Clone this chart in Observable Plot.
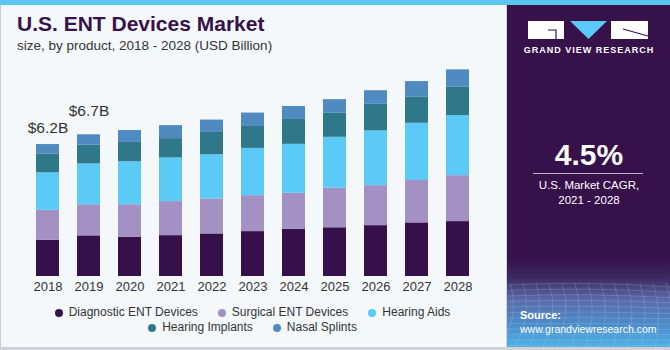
<!DOCTYPE html>
<html>
<head>
<meta charset="utf-8">
<script src="https://cdn.jsdelivr.net/npm/d3@7"></script>
<script src="https://cdn.jsdelivr.net/npm/@observablehq/plot@0.6"></script>
<style>
  body { margin: 0; }
  #root { position: relative; width: 670px; height: 350px; background: #f4f8fb; overflow: hidden; font-family: "Liberation Sans", Arial, sans-serif; }
  #topstrip { position: absolute; left: 0; top: 0; width: 670px; height: 5px; background: #5bc6f0; }
  #leftborder { position: absolute; left: 0; top: 5px; width: 1px; height: 345px; background: #c9cdd2; }
  #bottomborder { position: absolute; left: 0; top: 347px; width: 670px; height: 3px; background: #cfd2d6; }
  #title { position: absolute; left: 17px; top: 12px; font-size: 21px; font-weight: bold; color: #37114a; white-space: nowrap; }
  #subtitle { position: absolute; left: 17px; top: 38px; font-size: 13.5px; color: #333; white-space: nowrap; }
  #chart { position: absolute; left: 0; top: 60px; }
  #legend { position: absolute; left: 0; top: 305px; width: 505px; font-size: 12px; color: #333; }
  .lrow { display: flex; justify-content: center; height: 15px; line-height: 15px; }
  .litem { display: flex; align-items: center; margin: 0 10px; white-space: nowrap; }
  .ldot { width: 8px; height: 8px; border-radius: 50%; margin-right: 6px; }
  #panel { position: absolute; left: 506px; top: 5px; width: 164px; height: 342px; background: linear-gradient(to bottom, #37114a 0%, #37114a 74%, #3d2a63 80%, #5a6aa8 86%, #4b8fcc 94%, #4fb0e6 100%); border-left: 1px solid #d0d4da; }
  #grid { position: absolute; left: 0; top: 268px; }
  #logo { position: absolute; left: 21px; top: 16px; }
  #gvrtext { position: absolute; left: 0; top: 40px; width: 164px; text-align: center; color: #fff; font-weight: bold; font-size: 9px; letter-spacing: 1px; }
  #cagr { position: absolute; left: 0; top: 133px; width: 164px; text-align: center; color: #fff; font-weight: bold; font-size: 30px; }
  #cagrline { position: absolute; left: 26px; top: 168px; width: 110px; height: 1px; background: #b9b3c8; }
  #cagrtext { position: absolute; left: 0; top: 173px; width: 164px; text-align: center; color: #fff; font-size: 11.5px; line-height: 15px; }
  #source { position: absolute; left: 13px; top: 303px; color: #fff; font-size: 10.5px; line-height: 14px; }
</style>
</head>
<body>
<div id="root">
  <div id="topstrip"></div>
  <div id="leftborder"></div>
  <div id="title">U.S. ENT Devices Market</div>
  <div id="subtitle">size, by product, 2018 - 2028 (USD Billion)</div>
  <div id="chart"></div>
  <div id="legend"></div>
  <div id="panel">
    <svg id="grid" width="164" height="74"></svg>
    <svg id="logo" width="122" height="20">
      <rect x="0" y="0" width="36" height="18" fill="#fff"/>
      <path d="M20 9 H28 V18" stroke="#37114a" stroke-width="1.2" fill="none"/>
      <path d="M42 0 H79 L60.5 18 Z" fill="#5bc8f5"/>
      <rect x="83" y="0" width="37" height="18" fill="#fff"/>
      <path d="M95 8 L120 15" stroke="#37114a" stroke-width="1.2"/>
    </svg>
    <div id="gvrtext">GRAND VIEW RESEARCH</div>
    <div id="cagr">4.5%</div>
    <div id="cagrline"></div>
    <div id="cagrtext">U.S. Market CAGR,<br>2021 - 2028</div>
    <div id="source"><b style="font-size:11px">Source:</b><br>www.grandviewresearch.com</div>
  </div>
  <div id="bottomborder"></div>
</div>
<script>
const years = ["2018","2019","2020","2021","2022","2023","2024","2025","2026","2027","2028"];
const series = ["Diagnostic ENT Devices","Surgical ENT Devices","Hearing Aids","Hearing Implants","Nasal Splints"];
const colors = ["#36104a","#a491c4","#5ccaf6","#2e7889","#4f8bc1"];
const diagnostic = [1.70,1.91,1.85,1.92,2.00,2.11,2.22,2.29,2.39,2.52,2.58];
const surgical   = [1.41,1.46,1.52,1.60,1.64,1.69,1.69,1.86,1.88,1.99,2.16];
const hearingAids= [1.76,1.92,2.02,2.05,2.08,2.22,2.30,2.39,2.57,2.69,2.82];
const implants   = [0.89,0.89,0.91,0.91,1.05,1.03,1.17,1.13,1.25,1.22,1.33];
const nasal      = [0.44,0.48,0.56,0.61,0.58,0.63,0.61,0.64,0.64,0.74,0.82];
const labelYears = ["2018","2019"];
const labelTexts = ["$6.2B","$6.7B"];

const seriesValues = [diagnostic, surgical, hearingAids, implants, nasal];
const data = [];
series.forEach((s, si) => years.forEach((y, yi) => data.push({year: y, series: s, value: seriesValues[si][yi]})));
const totals = years.map((y, yi) => seriesValues.reduce((a, arr) => a + arr[yi], 0));
const labels = labelYears.map((y, i) => ({year: y, text: labelTexts[i], total: totals[years.indexOf(y)]}));

const chart = Plot.plot({
  width: 500,
  height: 240,
  marginLeft: 13,
  marginRight: 7,
  marginTop: 0,
  marginBottom: 24,
  style: {background: "transparent", fontFamily: "'Liberation Sans', Arial, sans-serif", fontSize: "13px", color: "#333"},
  x: {domain: years, padding: 0.43, label: null, tickSize: 0, tickPadding: 5},
  y: {domain: [0, 10.15], axis: null},
  color: {domain: series, range: colors},
  marks: [
    Plot.barY(data, {x: "year", y: "value", fill: "series", order: series}),
    Plot.text(labels.slice(0,1), {x: "year", y: "total", text: "text", dy: -16.5, fontSize: 15.5, fill: "#333"}),
    Plot.text(labels.slice(1,2), {x: "year", y: "total", text: "text", dy: -24, fontSize: 15.5, fill: "#333"})
  ]
});
document.getElementById("chart").appendChild(chart);

// legend
const legend = document.getElementById("legend");
[[0,1,2],[3,4]].forEach(row => {
  const r = document.createElement("div");
  r.className = "lrow";
  row.forEach(i => {
    const it = document.createElement("div");
    it.className = "litem";
    const d = document.createElement("span");
    d.className = "ldot";
    d.style.background = colors[i];
    const t = document.createElement("span");
    t.textContent = series[i];
    it.appendChild(d); it.appendChild(t);
    r.appendChild(it);
  });
  legend.appendChild(r);
});

// decorative grid in panel
const g = d3.select("#grid");
for (let i = 0; i < 14; i++) {
  g.append("path").attr("d", `M${i*13 - 10} 10 Q ${i*13} 40 ${i*14 - 20} 74`).attr("stroke", "rgba(200,220,255,0.28)").attr("fill", "none").attr("stroke-width", 0.7);
}
for (let j = 0; j < 12; j++) {
  g.append("path").attr("d", `M0 ${12 + j*5.5} Q 80 ${8 + j*6} 164 ${14 + j*5.3}`).attr("stroke", "rgba(200,220,255,0.28)").attr("fill", "none").attr("stroke-width", 0.7);
}
</script>
</body>
</html>
